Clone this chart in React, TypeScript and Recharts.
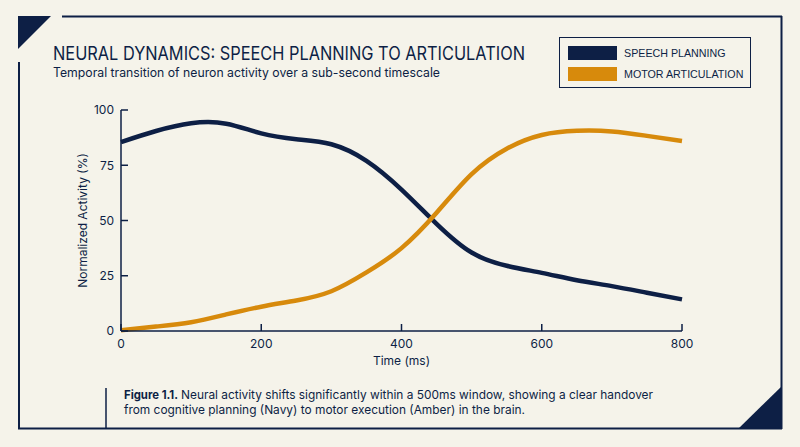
import React from 'react';
import { LineChart, Line, XAxis, YAxis } from 'recharts';

const timeMs = [0, 50, 100, 150, 200, 250, 300, 350, 400, 450, 500, 550, 600, 650, 700, 750, 800];
const speechPlanning = [85.5, 90.5, 94, 93.8, 89.4, 86.8, 84.5, 77, 64, 48.5, 35.5, 29.5, 26.3, 23, 20.3, 17.3, 14.3];
const motorArticulation = [0.3, 2, 4, 7.5, 11, 13.8, 18, 26.5, 37.5, 53.5, 71, 82.5, 88.7, 90.6, 90.3, 88.3, 86];
const xTicks = [0, 200, 400, 600, 800];
const yTicks = [0, 25, 50, 75, 100];

const NAVY = '#0d1f45';
const AMBER = '#d78a0c';
const BG = '#f5f3ea';
const FONT = 'Inter, "Noto Sans", sans-serif';

const data = timeMs.map((t, i) => ({ t, speech: speechPlanning[i], motor: motorArticulation[i] }));

const legendItems = [
  { label: 'SPEECH PLANNING', color: NAVY },
  { label: 'MOTOR ARTICULATION', color: AMBER },
];

function LegendBox() {
  return (
    <div
      style={{
        position: 'absolute',
        left: 559,
        top: 37,
        width: 192,
        height: 51,
        border: `1.5px solid ${NAVY}`,
        boxSizing: 'border-box',
        padding: '7.5px 0 0 8px',
        fontFamily: '"Liberation Sans", Arial, sans-serif',
        fontSize: 10.7,
        color: NAVY,
        background: BG,
        whiteSpace: 'nowrap',
      }}
    >
      {legendItems.map((it, i) => (
        <div key={it.label} style={{ display: 'flex', alignItems: 'center', height: 14, marginBottom: i === 0 ? 7 : 0 }}>
          <div style={{ width: 49, height: 14, background: it.color, marginRight: 7, flexShrink: 0 }} />
          <span>{it.label}</span>
        </div>
      ))}
    </div>
  );
}

export default function App() {
  return (
    <div style={{ position: 'fixed', left: 0, top: 0, width: 800, height: 447, background: BG, overflow: 'hidden' }}>
      {/* frame and text */}
      <svg width={800} height={447} style={{ position: 'absolute', left: 0, top: 0 }}>
        <polygon points="18,16 51,16 18,49" fill={NAVY} />
        <polygon points="738,429 782,429 782,386" fill={NAVY} />
        <line x1={62} y1={16.5} x2={782} y2={16.5} stroke={NAVY} strokeWidth={2} />
        <line x1={781.5} y1={16} x2={781.5} y2={429} stroke={NAVY} strokeWidth={2} />
        <line x1={18} y1={428.5} x2={782} y2={428.5} stroke={NAVY} strokeWidth={2} />
        <line x1={19} y1={62} x2={19} y2={429} stroke={NAVY} strokeWidth={2} />
        <line x1={106} y1={388} x2={106} y2={429} stroke={NAVY} strokeWidth={1.5} />

        <g fill={NAVY} fontFamily={FONT}>
          <text x={53} y={60} fontSize={18.5} textLength={472} lengthAdjust="spacingAndGlyphs">
            NEURAL DYNAMICS: SPEECH PLANNING TO ARTICULATION
          </text>
          <text x={53} y={76.5} fontSize={12.5} textLength={387} lengthAdjust="spacingAndGlyphs">
            Temporal transition of neuron activity over a sub-second timescale
          </text>
          <text x={124} y={399} fontSize={12} fontWeight={700} textLength={54} lengthAdjust="spacingAndGlyphs">
            Figure 1.1.
          </text>
          <text x={181} y={399} fontSize={12} textLength={472} lengthAdjust="spacingAndGlyphs">
            Neural activity shifts significantly within a 500ms window, showing a clear handover
          </text>
          <text x={124} y={413.8} fontSize={12} textLength={401} lengthAdjust="spacingAndGlyphs">
            from cognitive planning (Navy) to motor execution (Amber) in the brain.
          </text>
        </g>
      </svg>

      <LegendBox />

      <LineChart
        width={800}
        height={447}
        data={data}
        margin={{ top: 110, right: 118, bottom: 86, left: 61 }}
        style={{ position: 'absolute', left: 0, top: 0 }}
      >
        <XAxis
          dataKey="t"
          type="number"
          domain={[0, 800]}
          ticks={xTicks}
          height={30}
          stroke={NAVY}
          strokeWidth={1.5}
          tickSize={-7}
          tickMargin={15}
          tick={{ fill: NAVY, fontSize: 12, fontFamily: FONT }}
          label={{ value: 'Time (ms)', position: 'bottom', offset: -5, fill: NAVY, fontSize: 12, fontFamily: FONT }}
        />
        <YAxis
          type="number"
          domain={[0, 100]}
          ticks={yTicks}
          width={60}
          stroke={NAVY}
          strokeWidth={1.5}
          tickSize={-7}
          tickMargin={14}
          tick={{ fill: NAVY, fontSize: 12, fontFamily: FONT }}
          label={{
            value: 'Normalized Activity (%)',
            angle: -90,
            position: 'insideLeft',
            offset: 22,
            fill: NAVY,
            fontSize: 12,
            fontFamily: FONT,
            style: { textAnchor: 'middle' },
          }}
        />
        <Line type="natural" dataKey="speech" name="Speech Planning" stroke={NAVY} strokeWidth={4.5} dot={false} isAnimationActive={false} />
        <Line type="natural" dataKey="motor" name="Motor Articulation" stroke={AMBER} strokeWidth={4.5} dot={false} isAnimationActive={false} />
      </LineChart>
    </div>
  );
}
